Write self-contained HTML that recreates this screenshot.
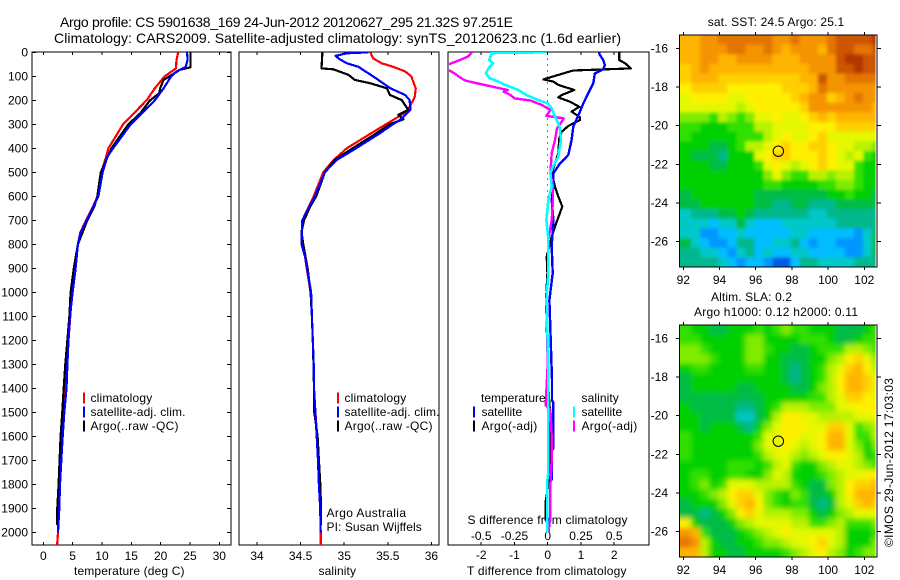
<!DOCTYPE html>
<html>
<head>
<meta charset="utf-8">
<title>Argo profile</title>
<style>
html,body{margin:0;padding:0;background:#fff;}
svg{display:block;}
text{font-family:"Liberation Sans",Arial,sans-serif;font-size:12px;fill:#000;}
.crisp{shape-rendering:crispEdges;}
</style>
</head>
<body>
<svg id="chart" xmlns="http://www.w3.org/2000/svg" width="900" height="580" viewBox="0 0 900 580">
<defs>
<clipPath id="clip-temp"><rect x="33" y="52" width="198" height="493"/></clipPath>
<clipPath id="clip-sal"><rect x="240" y="52" width="199" height="493"/></clipPath>
<clipPath id="clip-diff"><rect x="449" y="52" width="200" height="493"/></clipPath>
<clipPath id="clip-map1"><rect x="680" y="35" width="195.5" height="232"/></clipPath>
<clipPath id="clip-map2"><rect x="680" y="325" width="195.5" height="232"/></clipPath>
<filter id="soften-map1" filterUnits="userSpaceOnUse" x="650" y="10" width="250" height="280"><feGaussianBlur stdDeviation="1.5"/></filter>
<filter id="soften-map2" filterUnits="userSpaceOnUse" x="650" y="300" width="250" height="280"><feGaussianBlur stdDeviation="2.6"/></filter>
</defs>
</svg>
<script>
// ---------- tick labels ----------
var depthTicks = [0,100,200,300,400,500,600,700,800,900,1000,1100,1200,1300,1400,1500,1600,1700,1800,1900,2000];
var tempTicks = [0,5,10,15,20,25,30];
var salTicks = [34,34.5,35,35.5,36];
var diffTTicks = [-2,-1,0,1,2];
var diffSTicks = [-0.5,-0.25,0,0.25,0.5];
var lonTicks = [92,94,96,98,100,102];
var latTicks = [-16,-18,-20,-22,-24,-26];

// ---------- temperature panel ----------
var tempClimDepth = [0,32,67,100,150,200,300,400,435,500,600,700,750,800,900,1000,1100,1200,1300,1400,1500,1600,1700,1800,1900,2000,2055];
var tempClimValue = [23.0,22.7,22.6,20.7,19,17.6,13.6,11.1,10.7,9.9,9.3,7.3,6.3,5.9,5.4,4.9,4.6,4.3,4.0,3.8,3.4,3.1,2.85,2.7,2.55,2.5,2.35];
var tempSatDepth = [0,30,60,80,100,150,200,300,400,435,500,600,700,750,800,900,1000,1100,1200,1300,1400,1500,1600,1700,1800,1900,2000];
var tempSatValue = [24.5,24.6,24.3,22.7,21.8,20.5,19,14.9,11.9,10.9,10.1,9.4,7.4,6.4,5.9,5.5,5.0,4.55,4.3,4.1,3.95,3.58,3.3,3.07,2.85,2.73,2.5];
var tempArgoDepth = [0,62,73,115,150,170,200,255,300,400,500,600,643,700,800,900,1000,1100,1200,1300,1400,1500,1600,1700,1800,1900,1970];
var tempArgoValue = [25.1,25.1,23.3,20.5,19.9,19.8,18.2,16.5,14.5,11.6,9.8,9.2,8.7,7.5,5.9,5.2,4.65,4.45,4.1,3.75,3.47,3.24,2.95,2.78,2.6,2.39,2.39];

// ---------- salinity panel ----------
var salClimDepth = [0,25,46,60,80,100,150,185,200,247,282,337,400,450,500,600,700,800,851,900,1000,1100,1200,1300,1400,1500,1600,1700,1800,1900,2000,2055];
var salClimValue = [35.30,35.33,35.43,35.56,35.70,35.77,35.82,35.81,35.79,35.72,35.56,35.31,35.03,34.875,34.76,34.65,34.52,34.51,34.55,34.57,34.615,34.63,34.64,34.65,34.654,34.67,34.69,34.70,34.715,34.725,34.73,34.73];
var salSatDepth = [0,4,15,29,46,60,100,150,178,199,240,282,299,337,399,449,499,599,699,799,851,899,1000,1100,1200,1300,1400,1500,1600,1700,1800,1900,2000];
var salSatValue = [35.28,35.03,34.90,34.95,35.03,35.16,35.33,35.53,35.70,35.75,35.76,35.64,35.56,35.41,35.14,34.91,34.78,34.665,34.52,34.51,34.55,34.575,34.62,34.63,34.64,34.65,34.654,34.67,34.685,34.70,34.71,34.725,34.73];
var salArgoDepth = [0,67,71,94,115,129,150,178,199,240,261,279,299,337,399,449,499,599,643,699,747,799,899,1000,1100,1200,1300,1400,1500,1600,1700,1800,1900,1970];
var salArgoValue = [34.75,34.74,34.875,35.05,35.12,35.30,35.49,35.525,35.66,35.735,35.62,35.68,35.525,35.37,35.10,34.89,34.78,34.68,34.61,34.54,34.51,34.53,34.58,34.615,34.63,34.64,34.648,34.654,34.657,34.695,34.71,34.726,34.734,34.734];

// ---------- difference panel ----------
var diffTArgoDepth = [0,32,46,67,76,88,113,122,136,157,178,188,206,227,247,271,282,307,331,358,421,504,560,601,643,699,768,851,921,1032,1300,1400,1500,1600,1700,1800,1870,1950];
var diffTArgoValue = [2.15,2.15,2.33,2.5,0.77,0.47,-0.13,0.17,0.32,0.8,0.42,0.32,0.67,0.95,0.72,0.97,0.97,0.62,0.42,0.35,0.32,0.12,0.22,0.32,0.44,0.29,0.12,-0.03,-0.01,-0.05,0.0,0.02,0.07,0.08,0.05,0.02,-0.06,-0.06];
var diffTSatDepth = [0,11,32,53,71,88,129,171,213,247,310,365,428,463,504,560,615,699,810,921,1032,1365,1450,1460,1650,1660,1780,1790,1920,1980,2000];
var diffTSatValue = [1.54,1.57,1.67,1.72,1.67,1.42,1.37,1.22,1.07,0.97,0.77,0.72,0.62,0.37,0.17,0.17,0.12,0.17,0.12,0.15,0.05,0.13,0.13,0.17,0.17,0.12,0.12,0.08,0.08,0.04,0.04];
var diffSArgoDepth = [0,18,32,49,60,65,76,88,101,118,129,150,157,164,178,192,201,219,240,265,275,289,317,365,421,504,560,615,699,782,921,1032,1300,1470,1490,1600,1700,1800,1950,1970,2000];
var diffSArgoValue = [-0.57,-0.6,-0.66,-0.74,-0.78,-0.79,-0.74,-0.70,-0.67,-0.62,-0.53,-0.36,-0.30,-0.33,-0.28,-0.25,-0.13,-0.045,0.02,-0.01,0.12,0.105,0.07,0.055,0.03,0.02,0.04,0.04,0.03,0.005,0.005,-0.01,0.0,-0.015,0.02,0.03,0.03,0.02,0.02,0.01,0.01];
var diffSSatDepth = [0,3,32,46,67,88,108,122,136,157,178,199,213,233,268,310,365,435,476,504,560,615,699,782,921,1032,1300,1500,1750,1780,2000];
var diffSSatValue = [-0.01,-0.42,-0.44,-0.41,-0.445,-0.465,-0.435,-0.37,-0.32,-0.22,-0.16,-0.07,0,0.03,0.055,0.09,0.1,0.08,0.04,0.02,0.03,0.005,-0.01,0.005,0.005,-0.01,0.005,0.005,0.005,-0.002,-0.002];

// ---------- maps: colour level per half-degree cell, north to south ----------
var sstRows = [
[13,13,14,14,15,15,15,15,15,15,14,14,15,14,14,14,15,16,16,16,16,17],
[13,13,14,14,14,15,15,14,14,15,14,13,14,14,14,13,15,16,16,15,15,16],
[13,13,14,14,13,13,14,14,14,14,13,13,13,14,14,14,14,16,17,17,16,16],
[12,13,14,13,13,13,13,13,13,13,13,13,13,13,14,14,14,16,16,17,16,16],
[12,13,13,13,12,12,12,12,12,12,12,12,12,13,13,16,14,14,15,15,15,15],
[11,12,12,12,12,11,11,11,11,11,11,12,12,12,13,15,14,14,14,14,14,14],
[10,11,11,11,11,10,10,11,11,11,11,11,12,13,14,14,12,13,14,15,14,14],
[10,10,10,10,10,10,9,10,11,11,11,11,11,12,14,14,14,14,14,14,14,13],
[8,8,8,7,9,8,7,8,10,10,11,10,10,11,12,13,12,13,13,13,13,13],
[7,7,6,6,6,7,7,7,9,9,10,10,10,10,11,11,11,12,12,12,12,12],
[7,6,6,6,6,6,7,7,7,9,10,11,10,10,11,12,10,10,10,10,10,10],
[6,6,6,5,5,6,7,9,9,10,11,12,11,11,12,12,11,10,10,9,9,8],
[6,5,5,5,4,6,6,6,10,11,12,12,11,11,11,12,11,10,9,10,7,6],
[6,6,6,5,5,6,6,6,7,10,11,10,9,10,11,12,11,10,10,7,6,6],
[6,6,6,6,6,6,6,6,6,8,10,8,7,7,9,9,8,9,9,7,6,6],
[6,6,6,6,6,6,6,6,6,7,7,6,6,6,6,7,7,8,8,7,6,6],
[5,6,6,6,6,6,6,6,5,5,5,5,5,5,5,5,6,6,7,6,6,5],
[5,5,6,6,6,6,6,6,5,5,4,4,5,5,4,4,4,5,5,5,5,5],
[3,4,4,4,5,5,6,5,4,4,4,4,4,4,3,3,4,4,4,4,4,4],
[3,3,3,2,3,3,5,3,2,2,2,3,3,3,3,3,3,4,4,4,4,4],
[3,3,1,1,2,2,3,2,2,2,2,2,3,3,2,2,2,2,2,1,3,5],
[5,3,2,1,1,2,4,4,2,2,3,3,4,2,1,2,2,1,1,1,3,5],
[4,4,3,3,2,1,3,4,2,3,2,2,3,3,2,2,2,2,1,1,3,5],
[4,4,4,4,3,2,1,2,2,1,0,0,2,4,4,3,3,3,3,4,4,4]
];
var slaRows = [
[7,6,6,5,5,6,6,6,7,6,7,8,7,7,6,6,6,5,5,5,6,7],
[7,7,6,6,6,6,6,8,8,6,6,6,6,7,7,7,6,5,5,6,7,7],
[8,8,7,6,6,6,6,8,8,7,6,6,5,5,6,7,7,7,9,9,8,7],
[8,8,8,7,6,6,6,8,8,6,6,5,5,5,6,6,8,9,11,12,10,8],
[6,7,7,6,6,6,6,7,7,6,6,5,4,5,6,7,9,10,12,13,11,9],
[5,6,6,6,6,6,6,6,6,6,6,5,4,5,6,7,9,11,13,13,12,10],
[5,6,6,6,6,6,5,5,6,6,6,6,5,5,6,8,9,11,13,13,12,10],
[5,5,5,5,5,5,5,5,5,6,6,6,6,6,7,7,9,10,12,12,11,10],
[6,5,5,5,5,5,4,4,5,6,7,9,9,9,8,8,8,10,10,11,11,11],
[6,6,5,5,5,5,3,3,5,6,9,11,11,10,10,9,9,9,9,10,10,11],
[6,6,5,6,6,6,5,4,6,8,10,11,11,11,10,10,12,12,10,7,8,9],
[7,6,6,6,6,6,6,6,7,10,10,11,11,10,10,11,13,13,10,7,7,9],
[7,6,6,6,6,6,6,6,8,10,10,11,10,9,10,11,13,13,10,8,6,8],
[7,6,6,6,6,6,6,6,7,9,10,10,9,8,9,10,11,11,10,9,6,7],
[6,6,6,6,6,7,7,7,6,7,9,10,7,6,6,8,9,10,10,9,8,7],
[6,7,7,6,6,7,7,6,6,8,10,9,6,6,6,7,8,9,10,10,11,11],
[6,7,8,6,7,10,10,10,9,9,9,9,7,6,5,5,8,9,11,12,12,13],
[6,6,7,8,9,11,12,12,10,8,7,6,8,7,5,5,6,9,11,13,13,13],
[5,6,6,6,8,10,12,13,11,8,7,6,7,7,5,4,5,9,10,12,13,12],
[5,5,4,5,6,8,11,12,10,9,9,9,8,8,6,5,6,8,9,10,10,10],
[11,6,5,5,5,6,8,9,10,10,10,10,9,9,7,7,8,9,7,7,7,8],
[14,13,7,5,5,5,6,7,8,9,10,11,10,10,10,10,10,9,6,6,6,7],
[15,14,9,6,5,5,6,6,7,8,8,9,10,10,11,12,10,9,6,6,6,8],
[13,13,9,6,6,5,5,6,6,6,6,7,8,9,10,11,9,8,6,7,8,8]
];
var argoLon = 97.25;
var argoLat = -21.32;

// ---------- colours ----------
var levelColors = ['#005ae6','#0096ff','#00beff','#00c8c8','#00b88c','#00bc44','#00d000','#30e000','#80ec00','#b8f200','#e4f800','#fff000','#ffd000','#ffb400','#f49400','#e47400','#cc5400','#b43400'];

// ---------- axis functions ----------
function depthY(d){return 52.3+d*0.24;}
function tempX(t){return 43.3+t*5.867;}
function salX(s){return 257+(s-34)*87.2;}
function diffTX(t){return 547.7+t*33.25;}
function diffSX(s){return 547.7+s*133;}
function lonX(l){return 683.3+(l-92)*18.1;}
function latY(l,top){return top+13.3-(l+16)*19.34;}

var svg=document.getElementById('chart');
var NS='http://www.w3.org/2000/svg';

function mk(tag,name,parent){
  var el=document.createElementNS(NS,tag);
  
  
  (parent||svg).appendChild(el);
  return el;
}
function txt(s,x,y,name,anchor,len){
  var t=mk('text',name);
  t.setAttribute('x',x);
  t.setAttribute('y',y);
  if(anchor)t.setAttribute('text-anchor',anchor);
  if(len){t.setAttribute('textLength',len);t.setAttribute('lengthAdjust','spacing');}
  t.textContent=s;
  return t;
}
function line(x1,y1,x2,y2,name,color,w,parent){
  var l=mk('line',name,parent);
  l.setAttribute('x1',x1);l.setAttribute('y1',y1);l.setAttribute('x2',x2);l.setAttribute('y2',y2);
  l.setAttribute('stroke',color||'#000');
  l.setAttribute('stroke-width',w||1);
  l.setAttribute('class','crisp');
  return l;
}
function frame(x,y,w,h,name){
  var r=mk('rect',name);
  r.setAttribute('x',x);r.setAttribute('y',y);r.setAttribute('width',w);r.setAttribute('height',h);
  r.setAttribute('fill','none');r.setAttribute('stroke','#000');r.setAttribute('stroke-width',1);
  r.setAttribute('class','crisp');
}
function profile(depths,values,xf,color,width,clip,name){
  var p=mk('polyline',name);
  var pts=[];
  for(var i=0;i<depths.length;i++){pts.push(xf(values[i]).toFixed(1)+','+depthY(depths[i]).toFixed(1));}
  p.setAttribute('points',pts.join(' '));
  p.setAttribute('fill','none');
  p.setAttribute('stroke',color);
  p.setAttribute('stroke-width',width);
  p.setAttribute('stroke-linejoin','round');
  p.setAttribute('clip-path','url(#'+clip+')');
  p.setAttribute('class','crisp');
}
function legendBar(x,y,color,name){
  line(x,y-5.5,x,y+5.5,name,color,2.4);
}
function labelFmt(v){return String(v);}

// ---------- titles ----------
txt('Argo profile: CS 5901638_169 24-Jun-2012 20120627_295 21.32S 97.251E',60,27,'chart-title-line-1',null,453).style.fontSize='14px';
txt('Climatology: CARS2009. Satellite-adjusted climatology: synTS_20120623.nc (1.6d earlier)',54,43,'chart-title-line-2',null,567).style.fontSize='14px';

// ---------- profile panels ----------
var TOP=52, BOT=545;
function panel(l,r,name){ frame(l,TOP,r-l,BOT-TOP,name); }
panel(32,231,'temperature-panel-frame');
panel(239,439,'salinity-panel-frame');
panel(448,649,'difference-panel-frame');

depthTicks.forEach(function(d){
  var y=depthY(d);
  line(32,y,36,y,'depth-tick-left');
  line(227,y,231,y,'depth-tick-right');
  txt(labelFmt(d),28,y+4,'depth-tick-label','end');
});
tempTicks.forEach(function(t){
  var x=tempX(t);
  line(x,TOP,x,TOP+3,'temperature-tick-top');
  line(x,BOT-3,x,BOT,'temperature-tick-bottom');
  txt(labelFmt(t),x,560,'temperature-tick-label','middle');
});
salTicks.forEach(function(s){
  var x=salX(s);
  line(x,TOP,x,TOP+3,'salinity-tick-top');
  line(x,BOT-3,x,BOT,'salinity-tick-bottom');
  txt(labelFmt(s),x,560,'salinity-tick-label','middle');
});
diffTTicks.forEach(function(t){
  var x=diffTX(t);
  line(x,TOP,x,TOP+3,'t-difference-tick-top');
  line(x,BOT-3,x,BOT,'t-difference-tick-bottom');
  txt(labelFmt(t),x,559,'t-difference-tick-label','middle');
});
diffSTicks.forEach(function(s){
  txt(labelFmt(s),diffSX(s),540,'s-difference-tick-label','middle');
});
txt('temperature (deg C)',74,575,'temperature-axis-title',null,110.5);
txt('salinity',318.5,575,'salinity-axis-title',null,37.5);
txt('T difference from climatology',467,575,'t-difference-axis-title',null,159.5);
txt('S difference from climatology',467.5,524,'s-difference-axis-title',null,160);

// zero line
var zero=line(diffTX(0),depthY(0),diffTX(0),depthY(700),'zero-difference-line','#000',1);
zero.setAttribute('stroke-dasharray','1 5');

// series
profile(tempClimDepth,tempClimValue,tempX,'#ff0000',2.2,'clip-temp','temperature-climatology-line');
profile(tempArgoDepth,tempArgoValue,tempX,'#000000',2.2,'clip-temp','temperature-argo-line');
profile(tempSatDepth,tempSatValue,tempX,'#0000ff',2.2,'clip-temp','temperature-satellite-line');

profile(salClimDepth,salClimValue,salX,'#ff0000',2.2,'clip-sal','salinity-climatology-line');
profile(salArgoDepth,salArgoValue,salX,'#000000',2.2,'clip-sal','salinity-argo-line');
profile(salSatDepth,salSatValue,salX,'#0000ff',2.2,'clip-sal','salinity-satellite-line');

profile(diffTArgoDepth,diffTArgoValue,diffTX,'#000000',2.2,'clip-diff','t-difference-argo-line');
profile(diffTSatDepth,diffTSatValue,diffTX,'#0000ff',2.4,'clip-diff','t-difference-satellite-line');
profile(diffSArgoDepth,diffSArgoValue,diffSX,'#ff00ff',2.4,'clip-diff','s-difference-argo-line');
profile(diffSSatDepth,diffSSatValue,diffSX,'#00ffff',2.6,'clip-diff','s-difference-satellite-line');

// legends
legendBar(84,398,'#ff0000','temperature-legend-climatology-swatch');
legendBar(84,412,'#0000ff','temperature-legend-satellite-swatch');
legendBar(84,426,'#000000','temperature-legend-argo-swatch');
txt('climatology',90.5,402,'temperature-legend-climatology',null,61.7);
txt('satellite-adj. clim.',90.5,416,'temperature-legend-satellite',null,95);
txt('Argo(..raw -QC)',90.5,430,'temperature-legend-argo',null,88);

legendBar(338,398,'#ff0000','salinity-legend-climatology-swatch');
legendBar(338,412,'#0000ff','salinity-legend-satellite-swatch');
legendBar(338,426,'#000000','salinity-legend-argo-swatch');
txt('climatology',344.5,402,'salinity-legend-climatology',null,61.7);
txt('satellite-adj. clim.',344.5,416,'salinity-legend-satellite',null,95);
txt('Argo(..raw -QC)',344.5,430,'salinity-legend-argo',null,88);
txt('Argo Australia',326.5,517,'argo-australia-credit',null,79.5);
txt('PI: Susan Wijffels',326.5,531,'principal-investigator-credit',null,95.2);

txt('temperature',481,402,'difference-legend-temperature-heading',null,64.7);
legendBar(474,412,'#0000ff','difference-legend-t-satellite-swatch');
legendBar(474,426,'#000000','difference-legend-t-argo-swatch');
txt('satellite',481.5,416,'difference-legend-t-satellite',null,40.7);
txt('Argo(-adj)',481.5,430,'difference-legend-t-argo',null,55.7);
txt('salinity',581.5,402,'difference-legend-salinity-heading',null,37.3);
legendBar(574,412,'#00ffff','difference-legend-s-satellite-swatch');
legendBar(574,426,'#ff00ff','difference-legend-s-argo-swatch');
txt('satellite',581.5,416,'difference-legend-s-satellite',null,40.7);
txt('Argo(-adj)',581.5,430,'difference-legend-s-argo',null,55.7);

// ---------- maps ----------
function drawMap(rows,top,height,clip,filter,prefix){
  var outer=mk('g',prefix+'-heatmap');
  outer.setAttribute('clip-path','url(#'+clip+')');
  var g=mk('g',prefix+'-cells',outer);
  g.setAttribute('filter','url(#'+filter+')');
  for(var r=0;r<rows.length;r++){
    for(var c=0;c<rows[r].length;c++){
      var lon=91.93+c*0.5;
      var lat=-15.31-r*0.5;
      var cell=mk('rect',prefix+'-cell',g);
      var x0=lonX(lon), x1=lonX(lon+0.5), y0=latY(lat,top), y1=latY(lat-0.5,top);
      // edge cells run past the clip so softening does not fade at the border
      if(c===0)x0-=14;
      if(c===rows[r].length-1)x1+=14;
      if(r===0)y0-=14;
      if(r===rows.length-1)y1+=14;
      cell.setAttribute('x',x0.toFixed(2));
      cell.setAttribute('y',y0.toFixed(2));
      cell.setAttribute('width',(x1-x0+0.3).toFixed(2));
      cell.setAttribute('height',(y1-y0+0.3).toFixed(2));
      cell.setAttribute('fill',levelColors[rows[r][c]]);
    }
  }
  frame(679.5,top,197.5,height,prefix+'-frame');
  lonTicks.forEach(function(l){
    var x=lonX(l);
    line(x,top-3,x,top,prefix+'-longitude-tick-top');
    line(x,top+height,x,top+height+3,prefix+'-longitude-tick-bottom');
    txt(labelFmt(l),x,top+height+17,prefix+'-longitude-label','middle');
  });
  latTicks.forEach(function(l){
    var y=latY(l,top);
    line(676,y,680,y,prefix+'-latitude-tick-left');
    line(877,y,881,y,prefix+'-latitude-tick-right');
    txt(labelFmt(l),668,y+4,prefix+'-latitude-label','end');
  });
  var dot=mk('circle',prefix+'-argo-position-marker');
  dot.setAttribute('cx',lonX(argoLon));
  dot.setAttribute('cy',latY(argoLat,top));
  dot.setAttribute('r',5.2);
  dot.setAttribute('fill','none');
  dot.setAttribute('stroke','#000');
  dot.setAttribute('stroke-width',1);
}
drawMap(sstRows,35,232,'clip-map1','soften-map1','sst-map');
drawMap(slaRows,325,232,'clip-map2','soften-map2','sla-map');

txt('sat. SST: 24.5 Argo: 25.1',707.7,26,'sst-map-title',null,136.5);
txt('Altim. SLA: 0.2',711,301,'sla-map-title',null,81);
txt('Argo h1000: 0.12 h2000: 0.11',694,316,'sla-map-subtitle',null,164);

var stamp=txt('\u00A9IMOS 29-Jun-2012 17:03:03',0,0,'imos-timestamp',null,169);
stamp.setAttribute('transform','translate(893,547) rotate(-90)');
</script>
</body>
</html>
